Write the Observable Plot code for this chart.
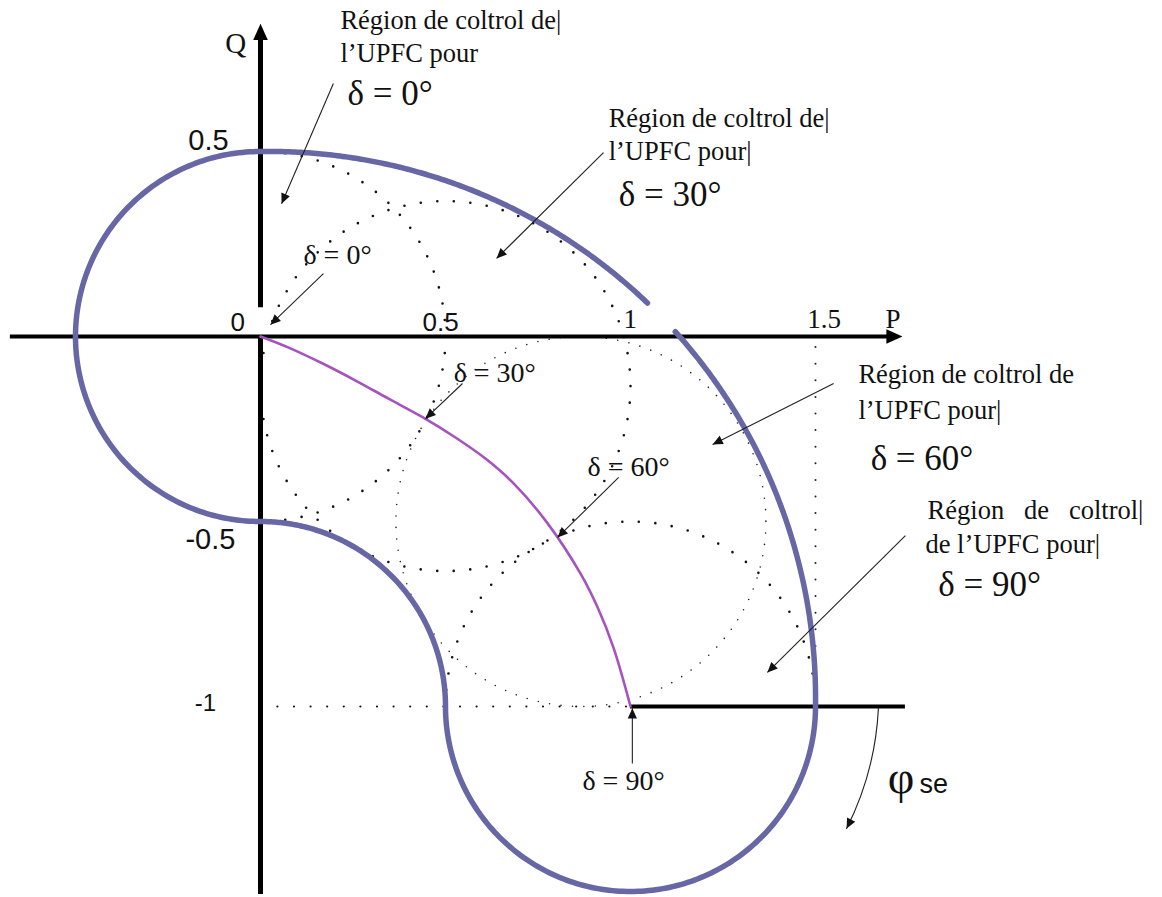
<!DOCTYPE html>
<html>
<head>
<meta charset="utf-8">
<script src="https://cdn.jsdelivr.net/npm/d3@7"></script>
<script src="https://cdn.jsdelivr.net/npm/@observablehq/plot@0.6"></script>
<style>
  html, body { margin: 0; padding: 0; background: #fff; }
  #chart svg { display: block; }
</style>
</head>
<body>
<div id="chart"></div>
<script>
// ---------------- data (P and Q in p.u.) ----------------
const deltaValues = [0, 30, 60, 90];                 // δ of each control region
const centerP = [0, 0.5, 0.866, 1];                   // centre of each region, P
const centerQ = [0, -0.134, -0.5, -1];                // centre of each region, Q
const centerDots = ["coarse", "coarse", "fine", "coarse"];
const controlRadius = 0.5;                            // radius of the UPFC control region

// purple operating curve (δ from 0° to 90°)
const purpleP = [0, 0.076, 0.168, 0.257, 0.346, 0.438, 0.527, 0.608, 0.684, 0.776, 0.865, 0.911, 0.954, 1];
const purpleQ = [0, -0.030, -0.073, -0.119, -0.168, -0.218, -0.273, -0.330, -0.397, -0.505, -0.641, -0.732, -0.841, -1];

// outer boundary of all control regions, as arcs (centre, radius, start/end angle in degrees)
const arcCP = [0, 0, 0, 1, 0];
const arcCQ = [-1, 0, -1, -1, -1];
const arcR = [1.5, 0.5, 0.5, 0.5, 1.5];
const arcBulge = [0.011, 0, 0, 0, 0.011];   // the hand-drawn outer arc sits slightly outside the circle mid-way
const arcA0 = [46.2, 90, 90, 180, 0];
const arcA1 = [90, 270, 0, 360, 42.1];

// tick labels
const pTickLabels = ["0", "0.5"];
const pTickLabelP = [-0.081, 0.438];
const pTickLabelsSerif = ["1", "1.5", "P"];
const pTickLabelSerifP = [0.981, 1.478, 1.689];
const qTickLabels = ["0.5", "-0.5"];
const qTickLabelQ = [0.503, -0.573];
const qTickLabelP = [-0.195, -0.203];
const qTickLabelSmall = ["-1"];
const qTickLabelSmallQ = [-1.011];
const qTickLabelSmallP = [-0.178];

// region annotations
const regionLines = [
  "Région de coltrol de|", "l’UPFC pour",
  "Région de coltrol de|", "l’UPFC pour|",
  "Région de coltrol de", "l’UPFC pour|",
  "Région\u00a0\u00a0\u00a0de\u00a0\u00a0\u00a0coltrol|", "de l’UPFC pour|"
];
const regionLineP = [0.216, 0.216, 0.941, 0.941, 1.616, 1.616, 1.803, 1.797];
const regionLineQ = [0.832, 0.743, 0.565, 0.478, -0.127, -0.222, -0.492, -0.584];
const regionDelta = ["δ = 0°", "δ = 30°", "δ = 60°", "δ = 90°"];
const regionDeltaP = [0.235, 0.968, 1.649, 1.832];
const regionDeltaQ = [0.627, 0.354, -0.362, -0.700];
const curveDelta = ["δ = 0°", "δ = 30°", "δ = 60°", "δ = 90°"];
const curveDeltaP = [0.116, 0.522, 0.884, 0.870];
const curveDeltaQ = [0.197, -0.124, -0.376, -1.227];

// annotation arrows: start (P1,Q1) -> tip (P2,Q2)
const arrowP1 = [0.197, 0.927, 0.170, 0.546, 0.968, 1.549, 1.743, 1.005];
const arrowQ1 = [0.684, 0.497, 0.170, -0.127, -0.381, -0.127, -0.538, -1.154];
const arrowP2 = [0.057, 0.638, 0.027, 0.446, 0.803, 1.222, 1.370, 1.005];
const arrowQ2 = [0.359, 0.211, 0.032, -0.222, -0.543, -0.292, -0.908, -1.005];
const phiArrow = {p1: 1.670, q1: -1.005, p2: 1.584, q2: -1.330};

// ---------------- layout ----------------
const W = 1162, H = 897, U = 370, X0 = 260, Y0 = 336;
const serif = "'Liberation Serif', 'Times New Roman', serif";
const sans = "'Liberation Sans', Arial, sans-serif";
const blue = "#6767a6", purple = "#a653c0";

const circles = deltaValues.map((d, i) => ({delta: d, p: centerP[i], q: centerQ[i], style: centerDots[i]}));
const purpleCurve = purpleP.map((p, i) => ({p, q: purpleQ[i]}));

const boundary = [];
arcCP.forEach((cp, k) => {
  const n = 160;
  for (let i = 0; i <= n; i++) {
    const a = (arcA0[k] + (arcA1[k] - arcA0[k]) * i / n) * Math.PI / 180;
    const r = arcR[k] + arcBulge[k] * Math.sin(2 * a);
    boundary.push({p: cp + r * Math.cos(a), q: arcCQ[k] + r * Math.sin(a)});
  }
});

const heading = (dp, dq) => Math.atan2(dp, dq) * 180 / Math.PI;
const arrows = arrowP1.map((p1, i) => ({p1, q1: arrowQ1[i], p2: arrowP2[i], q2: arrowQ2[i]}));
const phiBend = 12;
const axisHeads = [{p: 1.735, q: 0, dp: 1, dq: 0}, {p: 0, q: 0.845, dp: 0, dq: 1}];

// arrowhead symbol: tip at origin, pointing up
const headSymbol = {
  draw(ctx, size) {
    const r = Math.sqrt(size / Math.PI);
    ctx.moveTo(0, 0);
    ctx.lineTo(-r, 2.2 * r);
    ctx.lineTo(r, 2.2 * r);
    ctx.closePath();
  }
};

const coarse = {stroke: "#111", strokeWidth: 2.6, strokeDasharray: "0 16.6", strokeLinecap: "round"};
const fine = {stroke: "#222", strokeWidth: 1.6, strokeDasharray: "0 11.5", strokeLinecap: "round"};

const plot = Plot.plot({
  width: W, height: H, margin: 0,
  x: {domain: [-X0 / U, (W - X0) / U], axis: null},
  y: {domain: [-(H - Y0) / U, Y0 / U], axis: null},
  style: {background: "white", overflow: "visible"},
  marks: [
    // dotted control-region circles
    Plot.dot(circles.filter(c => c.style === "coarse"), {x: "p", y: "q", r: controlRadius * U, fill: "none", ...coarse}),
    Plot.dot(circles.filter(c => c.style === "fine"), {x: "p", y: "q", r: controlRadius * U, fill: "none", ...fine}),
    // dotted guide lines
    Plot.ruleY([-1], {x1: 0.047, x2: 1, ...coarse, strokeWidth: 2.2}),
    Plot.ruleX([1.5], {y1: -0.03, y2: -1, ...fine, strokeWidth: 2, strokeDasharray: "0 16.6"}),
    // axes
    Plot.ruleY([0], {x1: -0.676, x2: 1.72, stroke: "black", strokeWidth: 4}),
    Plot.ruleX([0], {y1: -1.508, y2: 0, stroke: "black", strokeWidth: 5}),
    Plot.ruleX([0], {y1: 0.078, y2: 0.80, stroke: "black", strokeWidth: 5}),
    Plot.ruleY([-1], {x1: 1, x2: 1.743, stroke: "black", strokeWidth: 4}),
    Plot.dot(axisHeads, {x: "p", y: "q", rotate: d => heading(d.dp, d.dq), symbol: headSymbol, r: 7.3, fill: "black", stroke: "none"}),
    // boundary
    Plot.line(boundary, {x: "p", y: "q", stroke: blue, strokeWidth: 5.5, curve: "linear"}),
    // purple operating curve
    Plot.line(purpleCurve, {x: "p", y: "q", stroke: purple, strokeWidth: 2.6, curve: "catmull-rom"}),
    // annotation arrows
    Plot.link(arrows, {x1: "p1", y1: "q1", x2: "p2", y2: "q2", stroke: "#222", strokeWidth: 1.1}),
    Plot.dot(arrows, {x: "p2", y: "q2", rotate: d => heading(d.p2 - d.p1, d.q2 - d.q1), symbol: headSymbol, r: 4.6, fill: "#111", stroke: "none"}),
    Plot.arrow([phiArrow], {x1: "p1", y1: "q1", x2: "p2", y2: "q2", bend: phiBend, headLength: 0, stroke: "#222", strokeWidth: 1.1}),
    Plot.dot([phiArrow], {x: "p2", y: "q2", rotate: d => heading(d.p2 - d.p1, d.q2 - d.q1) + phiBend, symbol: headSymbol, r: 4.6, fill: "#111", stroke: "none"}),
    // tick labels
    Plot.text(pTickLabels, {x: (d, i) => pTickLabelP[i], y: 0.016, text: d => d, textAnchor: "start", lineAnchor: "bottom", fontSize: 26, fontFamily: sans, fill: "#111"}),
    Plot.text(pTickLabelsSerif, {x: (d, i) => pTickLabelSerifP[i], y: 0.022, text: d => d, textAnchor: "start", lineAnchor: "bottom", fontSize: 27, fontFamily: serif, fill: "#111"}),
    Plot.text(["Q"], {x: -0.095, y: 0.765, text: d => d, textAnchor: "start", lineAnchor: "bottom", fontSize: 29, fontFamily: serif, fill: "#111"}),
    Plot.text(qTickLabels, {x: (d, i) => qTickLabelP[i], y: (d, i) => qTickLabelQ[i], text: d => d, textAnchor: "start", lineAnchor: "bottom", fontSize: 29, fontFamily: sans, fill: "#111"}),
    Plot.text(qTickLabelSmall, {x: (d, i) => qTickLabelSmallP[i], y: (d, i) => qTickLabelSmallQ[i], text: d => d, textAnchor: "start", lineAnchor: "bottom", fontSize: 24, fontFamily: sans, fill: "#111"}),
    // region annotations
    Plot.text(regionLines, {x: (d, i) => regionLineP[i], y: (d, i) => regionLineQ[i], text: d => d, textAnchor: "start", lineAnchor: "bottom", fontSize: 26.5, fontFamily: serif, fill: "#111"}),
    Plot.text(regionDelta, {x: (d, i) => regionDeltaP[i], y: (d, i) => regionDeltaQ[i], text: d => d, textAnchor: "start", lineAnchor: "bottom", fontSize: 35, fontFamily: serif, fill: "#111"}),
    Plot.text(curveDelta, {x: (d, i) => curveDeltaP[i], y: (d, i) => curveDeltaQ[i], text: d => d, textAnchor: "start", lineAnchor: "bottom", fontSize: 28, fontFamily: serif, fill: "#111"}),
    // φse
    Plot.text(["φ"], {x: 1.695, y: -1.235, text: d => d, textAnchor: "start", lineAnchor: "bottom", fontSize: 46, fontFamily: serif, fill: "#111"}),
    Plot.text(["se"], {x: 1.781, y: -1.235, text: d => d, textAnchor: "start", lineAnchor: "bottom", fontSize: 27, fontFamily: sans, fill: "#111"})
  ]
});
document.getElementById("chart").appendChild(plot);
</script>
</body>
</html>
